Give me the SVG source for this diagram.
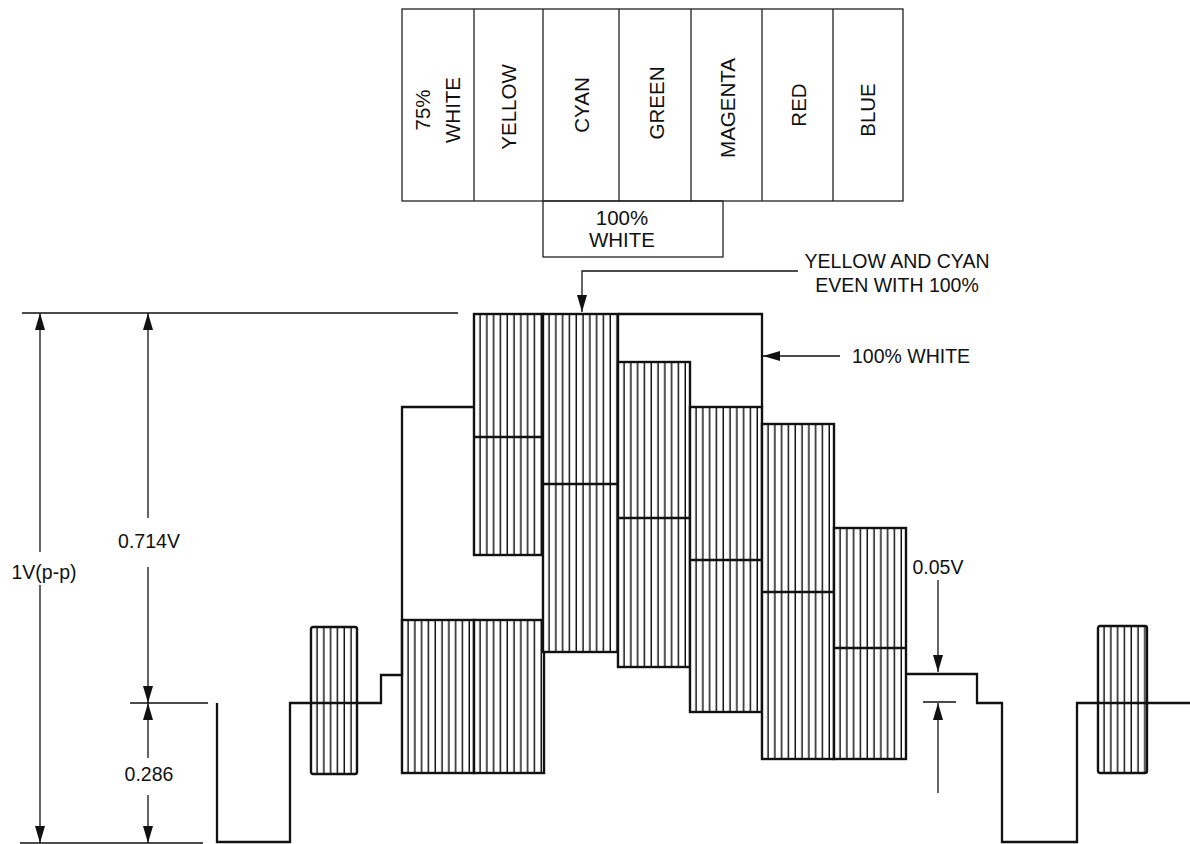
<svg xmlns="http://www.w3.org/2000/svg" width="1190" height="844" viewBox="0 0 1190 844">
<style>
text{font-family:"Liberation Sans",Arial,sans-serif;fill:#111}
.tbl{fill:none;stroke:#222;stroke-width:1.3}
.tt{font-size:20.5px;text-anchor:middle}
.lbl{font-size:19.5px}
.mid{text-anchor:middle}
.thin{fill:none;stroke:#111;stroke-width:1.3}
.wave{fill:none;stroke:#111;stroke-width:2.3;stroke-linejoin:miter}
.blk{stroke:#111;stroke-width:2.4}
.ml{stroke:#111;stroke-width:2.4}
.arr{fill:none;stroke:#111;stroke-width:1.3;marker-end:url(#ah)}
.arr2{fill:none;stroke:#111;stroke-width:1.3;marker-start:url(#ah)}
</style>
<defs>
<marker id="ah" viewBox="-18 -6 18 12" refX="0" refY="0" markerWidth="18" markerHeight="12" markerUnits="userSpaceOnUse" orient="auto-start-reverse">
<path d="M0,0 L-17,-5 L-17,5 Z" fill="#111"/>
</marker>
<pattern id="hatch" width="6.8" height="10" patternUnits="userSpaceOnUse">
<rect width="6.8" height="10" fill="#fff"/>
<line x1="6.1" y1="0" x2="6.1" y2="10" stroke="#111" stroke-width="1.5"/>
</pattern>
</defs>
<rect width="1190" height="844" fill="#fff"/>

<g id="colorbar-table">
<rect class="tbl" x="402" y="9" width="501" height="192"/>
<path class="tbl" d="M474,9 V201 M543,9 V201 M619,9 V201 M691,9 V201 M762,9 V201 M833,9 V201"/>
<rect class="tbl" x="543" y="201" width="180" height="56"/>
<text class="tt" transform="translate(438,110) rotate(-90)"><tspan x="0" y="-8">75%</tspan><tspan x="0" y="22">WHITE</tspan></text>
<text class="tt" transform="translate(508.5,107) rotate(-90)" y="7.5">YELLOW</text>
<text class="tt" transform="translate(581,105) rotate(-90)" y="7.5">CYAN</text>
<text class="tt" transform="translate(656,103) rotate(-90)" y="7.5">GREEN</text>
<text class="tt" transform="translate(727,108) rotate(-90)" y="7.5">MAGENTA</text>
<text class="tt" transform="translate(798.5,105) rotate(-90)" y="7.5">RED</text>
<text class="tt" transform="translate(867,110) rotate(-90)" y="7.5">BLUE</text>
<text class="tt" x="622" y="225">100%</text>
<text class="tt" x="622" y="247">WHITE</text>
</g>

<g id="bar-yellow-upper" transform="translate(474,314)"><rect class="blk" width="69" height="241" fill="url(#hatch)"/><line class="ml" x1="0" y1="123" x2="69" y2="123"/></g>
<g id="bar-lower-a" transform="translate(402,620)"><rect class="blk" width="72" height="153" fill="url(#hatch)"/></g>
<g id="bar-lower-b" transform="translate(474,620)"><rect class="blk" width="70" height="153" fill="url(#hatch)"/></g>
<g id="bar-cyan" transform="translate(543,314)"><rect class="blk" width="75" height="338" fill="url(#hatch)"/><line class="ml" x1="0" y1="170" x2="75" y2="170"/></g>
<g id="bar-green" transform="translate(618,362)"><rect class="blk" width="72" height="305" fill="url(#hatch)"/><line class="ml" x1="0" y1="156" x2="72" y2="156"/></g>
<g id="bar-magenta" transform="translate(690,407)"><rect class="blk" width="72" height="305" fill="url(#hatch)"/><line class="ml" x1="0" y1="153" x2="72" y2="153"/></g>
<g id="bar-red" transform="translate(762,424)"><rect class="blk" width="72" height="335" fill="url(#hatch)"/><line class="ml" x1="0" y1="168" x2="72" y2="168"/></g>
<g id="bar-blue" transform="translate(834,528)"><rect class="blk" width="72" height="231" fill="url(#hatch)"/><line class="ml" x1="0" y1="120" x2="72" y2="120"/></g>
<g id="burst-left" transform="translate(311,627)"><rect class="blk" width="46" height="147" rx="2" fill="url(#hatch)"/></g>
<g id="burst-right" transform="translate(1098,626)"><rect class="blk" width="49" height="147" rx="2" fill="url(#hatch)"/></g>

<g id="connectors">
<path class="thin" d="M20,843 H203 M22,313 H458 M130,703 H208 M923,702 H956"/>
<path class="wave" d="M217,703 V842 H290 V703 H381 V675 H402 V407 H474"/>
<path class="wave" d="M618,314 H762 V407"/>
<path class="wave" d="M906,674 H977 V703 H1002 V842 H1077 V703 H1190"/>
<path class="arr2" d="M40,313 V552"/>
<path class="arr" d="M40,585 V843"/>
<path class="arr2" d="M148,313 V518"/>
<path class="arr" d="M148,567 V703"/>
<path class="arr2" d="M148,703 V758"/>
<path class="arr" d="M148,795 V843"/>
<path class="arr" d="M798,271 H582 V312"/>
<path class="arr" d="M840,356 H763"/>
<path class="arr" d="M938,580 V672"/>
<path class="arr" d="M938,793 V703"/>
</g>

<g id="labels">
<text class="lbl mid" x="44" y="579">1V(p-p)</text>
<text class="lbl mid" x="149" y="548">0.714V</text>
<text class="lbl mid" x="149" y="781">0.286</text>
<text class="lbl mid" x="938" y="574">0.05V</text>
<text class="lbl mid" x="897" y="268">YELLOW AND CYAN</text>
<text class="lbl mid" x="897" y="292">EVEN WITH 100%</text>
<text class="lbl" x="852" y="363">100% WHITE</text>
</g>
</svg>
